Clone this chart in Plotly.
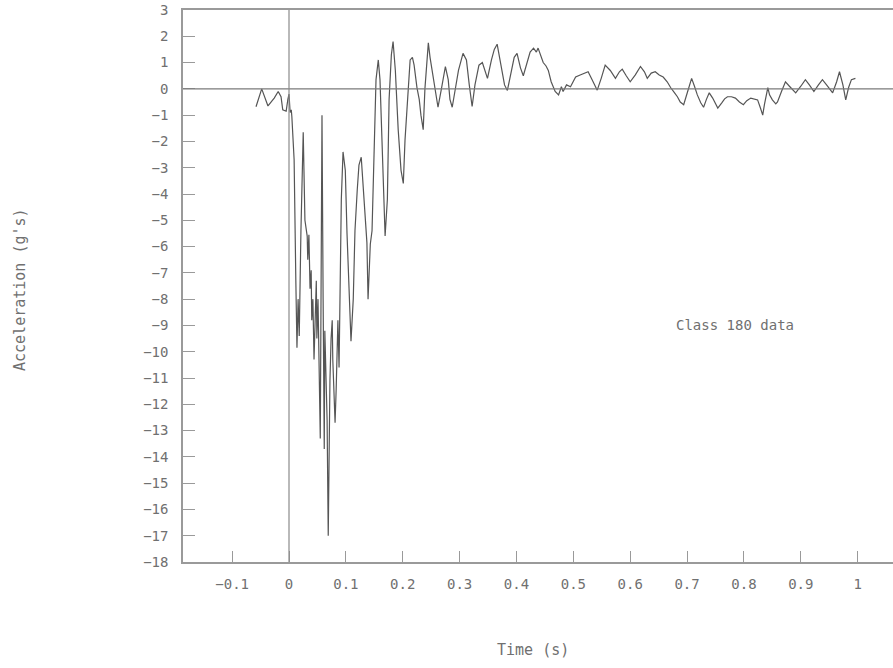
import plotly.graph_objects as go

time_s = [-0.058, -0.048, -0.037, -0.026, -0.019, -0.014, -0.011, -0.005, -0.002, 0.000,
          0.002, 0.004, 0.005, 0.009, 0.012, 0.014, 0.016, 0.018, 0.021, 0.025,
          0.028, 0.032, 0.033, 0.035, 0.037, 0.039, 0.040, 0.042, 0.044, 0.046,
          0.048, 0.049, 0.051, 0.055, 0.056, 0.058, 0.060, 0.062, 0.063, 0.065,
          0.067, 0.069, 0.070, 0.072, 0.074, 0.076, 0.077, 0.079, 0.081, 0.083,
          0.085, 0.086, 0.088, 0.090, 0.092, 0.095, 0.099, 0.102, 0.106, 0.109,
          0.113, 0.116, 0.120, 0.123, 0.127, 0.130, 0.134, 0.137, 0.139, 0.143,
          0.146, 0.150, 0.153, 0.157, 0.160, 0.164, 0.169, 0.173, 0.176, 0.180,
          0.183, 0.187, 0.192, 0.197, 0.201, 0.204, 0.210, 0.213, 0.217, 0.220,
          0.225, 0.229, 0.232, 0.236, 0.239, 0.245, 0.248, 0.254, 0.259, 0.262,
          0.268, 0.275, 0.280, 0.283, 0.287, 0.292, 0.298, 0.306, 0.312, 0.317,
          0.322, 0.327, 0.334, 0.340, 0.345, 0.349, 0.356, 0.361, 0.366, 0.371,
          0.379, 0.384, 0.391, 0.396, 0.401, 0.407, 0.412, 0.417, 0.424, 0.430,
          0.435, 0.438, 0.444, 0.447, 0.452, 0.456, 0.461, 0.468, 0.474, 0.479,
          0.482, 0.488, 0.495, 0.500, 0.504, 0.512, 0.519, 0.526, 0.533, 0.542,
          0.549, 0.556, 0.565, 0.574, 0.581, 0.586, 0.593, 0.600, 0.609, 0.618,
          0.625, 0.630, 0.637, 0.644, 0.651, 0.658, 0.665, 0.671, 0.678, 0.683,
          0.688, 0.694, 0.701, 0.708, 0.713, 0.718, 0.724, 0.729, 0.734, 0.739,
          0.745, 0.750, 0.754, 0.761, 0.766, 0.771, 0.778, 0.785, 0.792, 0.799,
          0.805, 0.812, 0.819, 0.824, 0.829, 0.833, 0.836, 0.842, 0.845, 0.850,
          0.856, 0.859, 0.866, 0.873, 0.880, 0.891, 0.900, 0.908, 0.915, 0.923,
          0.931, 0.938, 0.947, 0.956, 0.963, 0.968, 0.974, 0.979, 0.984, 0.989,
          0.996]

accel_g = [-0.68, 0.0, -0.65, -0.35, -0.1, -0.3, -0.8, -0.85, -0.4, -0.2,
           -0.9, -0.8, -1.05, -2.7, -7.3, -9.85, -8.0, -9.4, -5.4, -1.65,
           -5.0, -5.6, -6.5, -5.55, -7.6, -6.9, -8.8, -8.0, -10.3, -8.8,
           -7.3, -9.5, -8.0, -13.3, -10.3, -1.0, -8.0, -13.7, -9.2, -10.7,
           -12.6, -17.0, -14.1, -11.1, -9.5, -8.8, -10.3, -11.8, -12.7, -11.4,
           -9.7, -8.8, -10.6, -8.0, -4.2, -2.4, -3.1, -5.5, -7.6, -9.6,
           -8.0, -5.4, -3.85, -2.9, -2.6, -3.65, -4.8, -5.85, -8.0, -5.9,
           -5.4, -2.3, 0.35, 1.1, 0.35, -2.3, -5.6, -4.2, -0.4, 1.3,
           1.8, 0.7, -1.55, -3.1, -3.6, -1.95, 0.35, 1.1, 1.2, 0.9,
           0.05, -0.4, -1.0, -1.55, 0.0, 1.75, 1.2, 0.35, -0.4, -0.7,
           0.0, 0.85, 0.35, -0.4, -0.7, 0.0, 0.7, 1.35, 1.1, 0.15,
           -0.67, 0.15, 0.9, 1.0, 0.65, 0.4, 1.1, 1.5, 1.7, 1.1,
           0.15, -0.06, 0.7, 1.2, 1.35, 0.8, 0.5, 0.9, 1.4, 1.55,
           1.4, 1.55, 1.2, 1.0, 0.87, 0.7, 0.27, -0.1, -0.23, 0.08,
           -0.1, 0.15, 0.08, 0.27, 0.45, 0.53, 0.6, 0.65, 0.35, -0.05,
           0.4, 0.9, 0.7, 0.4, 0.65, 0.75, 0.5, 0.27, 0.53, 0.85,
           0.65, 0.4, 0.6, 0.65, 0.53, 0.45, 0.27, 0.05, -0.15, -0.3,
           -0.5, -0.6, -0.1, 0.4, 0.1, -0.23, -0.53, -0.7, -0.4, -0.15,
           -0.35, -0.57, -0.73, -0.53, -0.38, -0.3, -0.3, -0.35, -0.5, -0.6,
           -0.45, -0.35, -0.38, -0.42, -0.73, -1.0, -0.6, 0.05, -0.23, -0.42,
           -0.57, -0.5, -0.1, 0.27, 0.1, -0.15, 0.1, 0.35, 0.15, -0.1,
           0.15, 0.35, 0.1, -0.15, 0.27, 0.65, 0.15, -0.42, 0.05, 0.35,
           0.4]

x_ticks = [-0.1, 0, 0.1, 0.2, 0.3, 0.4, 0.5, 0.6, 0.7, 0.8, 0.9, 1]
x_tick_labels = ["\u22120.1", "0", "0.1", "0.2", "0.3", "0.4", "0.5", "0.6", "0.7", "0.8", "0.9", "1"]
y_ticks = list(range(-18, 4))
y_tick_labels = [str(v).replace("-", "\u2212") for v in y_ticks]

grey_txt = "#707070"
axis_col = "#9a9a9a"
font_family = "DejaVu Sans Mono, monospace"

fig = go.Figure()
fig.add_trace(go.Scatter(x=time_s, y=accel_g, mode="lines",
                         line=dict(color="#555555", width=1.2),
                         showlegend=False, hoverinfo="skip"))

fig.add_hline(y=0, line=dict(color="#7a7a7a", width=1.2))
fig.add_vline(x=0, line=dict(color="#8a8a8a", width=1.2))

fig.update_layout(
    width=893, height=668,
    margin=dict(l=183, r=0, t=10, b=106),
    plot_bgcolor="white", paper_bgcolor="white",
    font=dict(family=font_family, size=14, color=grey_txt),
    xaxis=dict(range=[-0.1864, 1.0621], tickvals=x_ticks, ticktext=x_tick_labels,
               ticks="inside", ticklen=11, tickwidth=1.2, tickcolor=axis_col,
               showline=True, linecolor=axis_col, linewidth=1.5, mirror=True,
               showgrid=False, zeroline=False, ticklabelstandoff=8,
               tickfont=dict(size=14, color=grey_txt)),
    yaxis=dict(range=[-18, 3], tickvals=y_ticks, ticktext=y_tick_labels,
               ticks="inside", ticklen=12, tickwidth=1.2, tickcolor=axis_col,
               showline=True, linecolor=axis_col, linewidth=1.5, mirror=False,
               showgrid=False, zeroline=False, ticklabelstandoff=10,
               tickfont=dict(size=14, color=grey_txt)),
    annotations=[
        dict(text="Class 180 data", x=0.784, y=-8.97, xref="x", yref="y",
             showarrow=False, font=dict(size=14, color=grey_txt)),
        dict(text="Time (s)", x=(533 - 183) / 710, y=(562 - 650) / 552,
             xref="paper", yref="paper", showarrow=False,
             xanchor="center", yanchor="middle", font=dict(size=15, color=grey_txt)),
        dict(text="Acceleration (g's)", x=(20 - 183) / 710, y=(562 - 290) / 552,
             xref="paper", yref="paper", showarrow=False, textangle=-90,
             xanchor="center", yanchor="middle", font=dict(size=15, color=grey_txt)),
    ],
)

fig.write_html("out.html", config={"displayModeBar": False},
               post_script="document.body.style.margin='0';document.body.style.overflow='hidden';")
